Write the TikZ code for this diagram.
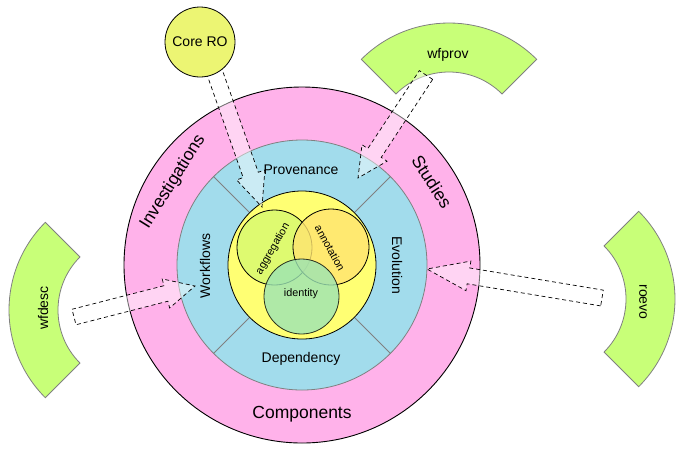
\documentclass[tikz,border=0pt]{standalone}
\usepackage{fontspec}
\setmainfont{Liberation Sans}
\usetikzlibrary{calc}
\definecolor{ringpink}{RGB}{255,178,234}
\definecolor{ringblue}{RGB}{162,220,236}
\definecolor{coreyellow}{RGB}{255,255,115}
\definecolor{coreRO}{RGB}{236,245,115}
\definecolor{sectorgreen}{RGB}{200,255,120}
\definecolor{aggfill}{RGB}{222,250,112}
\definecolor{annfill}{RGB}{255,228,112}
\definecolor{idfill}{RGB}{155,228,180}
\tikzset{
  ring/.style={circle,inner sep=0pt,outer sep=0pt},
  sector/.style={draw=gray,fill=sectorgreen,line width=0.8pt},
  divider/.style={draw=gray,line width=0.8pt},
  arrowbox/.style={draw=black,dash pattern=on 4pt off 3pt,line width=0.7pt,fill=white,fill opacity=0.45,line join=miter},
  lbl/.style={font=\fontsize{14}{16}\selectfont},
  biglbl/.style={font=\fontsize{17.5}{20}\selectfont},
  smalllbl/.style={font=\fontsize{10.8}{12}\selectfont},
}
\newcommand\blockarrow[3]{%
  \coordinate (hb) at ($(#2)!#3!(#1)$);
  \draw[arrowbox] ($(#1)!8pt!90:(#2)$) -- ($(hb)!8pt!90:(#2)$) -- ($(hb)!15pt!90:(#2)$) -- (#2)
     -- ($(hb)!15pt!-90:(#2)$) -- ($(hb)!8pt!-90:(#2)$) -- ($(#1)!8pt!-90:(#2)$) -- cycle;
}
\begin{document}
\begin{tikzpicture}[x=1pt,y=-1pt]
\useasboundingbox (0,0) rectangle (688,451);
\coordinate (ctr) at (302,265);
% outer rings
\node[ring,draw=black,line width=0.9pt,fill=ringpink,minimum size=356pt] (components) at (ctr) {};
\node[ring,draw=gray,line width=0.8pt,fill=ringblue,minimum size=250pt] (blue) at (ctr) {};
\foreach \a in {45,135,225,315}
  \draw[divider] ($(ctr)+(\a:74)$) -- ($(ctr)+(\a:125)$);
\node[ring,draw=black,line width=0.8pt,fill=coreyellow,minimum size=148pt] (core) at (ctr) {};
% inner circles
\node[ring,draw=black,line width=0.8pt,fill=aggfill,minimum size=75pt] (agg) at (274.5,247.5) {};
\node[ring,draw=black,line width=0.8pt,fill=annfill,fill opacity=0.8,minimum size=76pt] (ann) at (331,247) {};
\node[ring,draw=black,line width=0.8pt,fill=idfill,fill opacity=0.8,draw opacity=0.8,minimum size=75pt] (ident) at (301.5,296.5) {};
\node[smalllbl,rotate=60] (agglbl) at (273,249) {aggregation};
\node[smalllbl,rotate=-61] (annlbl) at (330,248) {annotation};
\node[smalllbl] (idlbl) at (301,294) {identity};
% ring labels
\node[lbl] (prov) at (301,170) {Provenance};
\node[lbl] (dep) at (301,359) {Dependency};
\node[lbl,rotate=90] (wf) at (205,266) {Workflows};
\node[lbl,rotate=-90] (evo) at (397,265) {Evolution};
\node[biglbl,rotate=58] (inv) at (173,182) {Investigations};
\node[biglbl,rotate=-57] (stud) at (432,182) {Studies};
\node[biglbl] (comp) at (302,414) {Components};
% sectors
\draw[sector] ($(449,147)+(225:124)$) arc[start angle=225,end angle=315,radius=124]
   -- ($(449,147)+(315:75)$) arc[start angle=315,end angle=225,radius=75] -- cycle;
\node[lbl] (wfprov) at (448,55) {wfprov};
\draw[sector] ($(133,310)+(135:124)$) arc[start angle=135,end angle=225,radius=124]
   -- ($(133,310)+(225:75)$) arc[start angle=225,end angle=135,radius=75] -- cycle;
\node[lbl,rotate=90] (wfdesc) at (43,308) {wfdesc};
\draw[sector] ($(551,299)+(-45:124)$) arc[start angle=-45,end angle=45,radius=124]
   -- ($(551,299)+(45:75)$) arc[start angle=45,end angle=-45,radius=75] -- cycle;
\node[lbl,rotate=-90] (roevo) at (643,302) {roevo};
% arrows
\coordinate (coreA) at (204,42);
\coordinate (coreB) at (262,207);
\coordinate (provA) at (426,75);
\coordinate (provB) at (358,178);
\coordinate (descA) at (74,317);
\coordinate (descB) at (195,286);
\coordinate (evoA) at (602,298);
\coordinate (evoB) at (427,269);
\blockarrow{coreA}{coreB}{34pt}
\blockarrow{provA}{provB}{30pt}
\blockarrow{descA}{descB}{30pt}
\blockarrow{evoA}{evoB}{42pt}
% Core RO
\node[ring,draw=black,line width=0.8pt,fill=coreRO,minimum size=70pt,lbl] (coreRO) at (200,42) {Core RO};
\end{tikzpicture}
\end{document}
